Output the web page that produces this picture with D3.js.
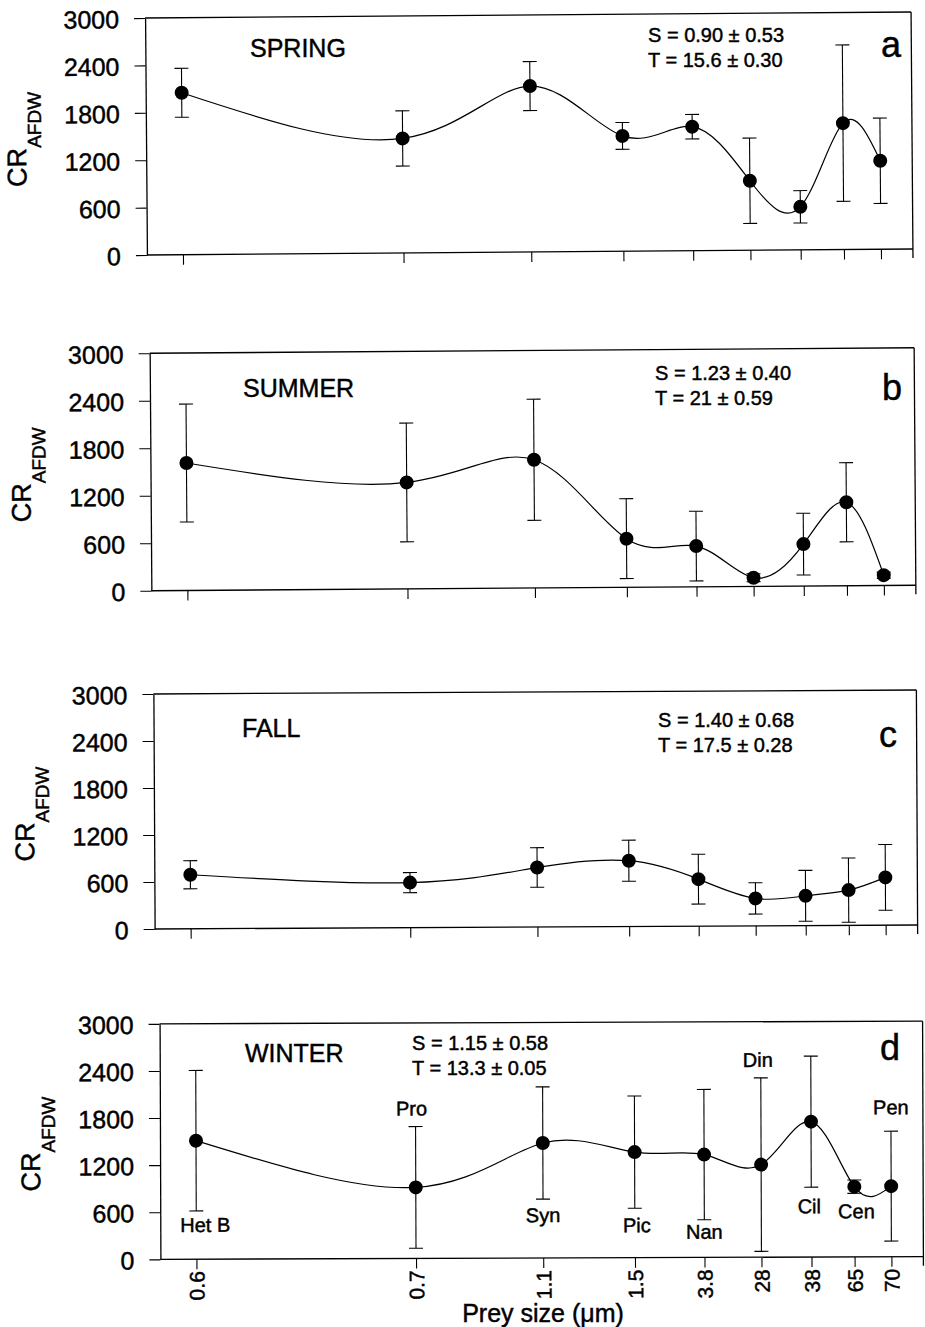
<!DOCTYPE html>
<html><head><meta charset="utf-8">
<script src="https://cdn.jsdelivr.net/npm/d3@7"></script>
<style>
body{margin:0;background:#fff}
svg{display:block}
text{font-family:"Liberation Sans",Arial,Helvetica,sans-serif;fill:#000;stroke:#000;stroke-width:0.45px}
</style>
</head><body>
<svg id="c" width="925" height="1327"></svg>
<script>
// ---------------- DATA ----------------
const preyTypes   = ["Het B","Pro","Syn","Pic","Nan","Din","Cil","Cen","Pen"];
const sizeLabels  = ["0.6","0.7","1.1","1.5","3.8","28","38","65","70"];
const axisPosition = [0, 31.6, 49.9, 63.1, 73.1, 81.3, 88.5, 94.7, 100]; // position of each prey size along the (non-linear) x axis
const yTicks = [0, 600, 1200, 1800, 2400, 3000];
const seasons = ["SPRING","SUMMER","FALL","WINTER"];
const panelLetters = ["a","b","c","d"];
const salinity    = ["S = 0.90 ± 0.53","S = 1.23 ± 0.40","S = 1.40 ± 0.68","S = 1.15 ± 0.58"];
const temperature = ["T = 15.6 ± 0.30","T = 21 ± 0.59","T = 17.5 ± 0.28","T = 13.3 ± 0.05"];

const springCR = [2050, 1450, 2100, 1460, 1570,  880,  545, 1600, 1120];
const springSE = [ 310,  350,  310,  170,  155,  540,  205,  990,  540];
const summerCR = [1610, 1345, 1620,  615,  515,  110,  530, 1055,  130];
const summerSE = [ 745,  750,  765,  505,  440,   50,  390,  500,   40];
const fallCR   = [ 690,  575,  760,  840,  600,  350,  380,  450,  610];
const fallSE   = [ 180,  128,  253,  262,  318,  200,  325,  410,  420];
const winterCR = [1510,  905, 1465, 1345, 1310, 1180, 1725,  895,  900];
const winterSE = [ 895,  775,  715,  715,  830, 1105,  835,   85,  700];

// ---------------- LAYOUT ----------------
const panels = [
  {cr:springCR, se:springSE, left:146,   right:912, top:15,    bottom:252,  rot:-0.45, labelX:250, labelY:57,   annX:648, annY:42,   letterX:891, letterY:57},
  {cr:summerCR, se:summerSE, left:150.5, right:915, top:350.5, bottom:588,  rot:-0.41, labelX:243, labelY:397,  annX:655, annY:380,  letterX:892, letterY:400},
  {cr:fallCR,   se:fallSE,   left:154,   right:917, top:692,   bottom:927,  rot:-0.30, labelX:242, labelY:737,  annX:658, annY:727,  letterX:888, letterY:747},
  {cr:winterCR, se:winterSE, left:160,   right:923, top:1022.5,bottom:1258, rot:-0.20, labelX:245, labelY:1062, annX:412, annY:1050, letterX:890, letterY:1060, last:true}
];
// placement of the prey-type labels in panel d: dx, and dy from error bar end (positive = below bar)
const preyLabelDx = [9, -4, 0, 2, 0, -3, -2, 2, 0];
const preyLabelDy = [21, -11, 23, 24, 19, -11, 26, 25, -17];

const svg = d3.select("#c");

panels.forEach((p, pi) => {
  const cx = (p.left + p.right) / 2, cy = (p.top + p.bottom) / 2;
  const g = svg.append("g").attr("transform", `rotate(${p.rot},${cx},${cy})`);

  const x = d3.scaleLinear().domain([0, 100]).range([p.left + 36, p.right - 32]);
  const y = d3.scaleLinear().domain([0, 3000]).range([p.bottom, p.top]);

  // frame
  const frame = g.append("g").attr("stroke", "#000").attr("stroke-width", 1.3).attr("fill", "none");
  frame.append("line").attr("x1", p.left).attr("x2", p.right).attr("y1", p.top).attr("y2", p.top);
  frame.append("line").attr("x1", p.left).attr("x2", p.right).attr("y1", p.bottom).attr("y2", p.bottom);
  frame.append("line").attr("x1", p.right).attr("x2", p.right).attr("y1", p.top).attr("y2", p.bottom + 9);

  // y axis
  const ya = g.append("g").attr("transform", `translate(${p.left},0)`)
    .call(d3.axisLeft(y).tickValues(yTicks).tickSize(11).tickSizeOuter(0).tickPadding(15).tickFormat(d3.format("d")));
  ya.select(".domain").attr("stroke", "#000").attr("stroke-width", 1.3);
  ya.selectAll(".tick line").attr("stroke", "#000").attr("stroke-width", 1.1);
  ya.selectAll(".tick text").attr("font-size", 25).attr("font-family", "Liberation Sans, Arial, sans-serif").attr("fill", "#000").attr("dy", "0.38em");

  // y axis title
  const yt = g.append("text")
    .attr("transform", `translate(${p.left - 120},${cy + 2}) rotate(-90)`)
    .attr("text-anchor", "middle");
  yt.append("tspan").attr("font-size", 27).text("CR");
  yt.append("tspan").attr("font-size", 19).attr("dy", 15).text("AFDW");

  // x axis ticks
  const xa = g.append("g").attr("transform", `translate(0,${p.bottom})`)
    .call(d3.axisBottom(x).tickValues(axisPosition).tickSize(10).tickSizeOuter(0)
      .tickFormat((d, i) => p.last ? sizeLabels[i] : ""));
  xa.select(".domain").remove();
  xa.selectAll(".tick line").attr("stroke", "#000").attr("stroke-width", 1.1);
  if (p.last) {
    xa.selectAll(".tick text")
      .attr("font-size", 21).attr("font-family", "Liberation Sans, Arial, sans-serif").attr("fill", "#000")
      .attr("transform", "rotate(-90)").attr("text-anchor", "end")
      .attr("x", -12).attr("y", 0).attr("dy", "0.36em");
  } else {
    xa.selectAll(".tick text").remove();
  }

  // data
  const pts = p.cr.map((v, i) => ({px: x(axisPosition[i]), v, e: p.se[i], i}));

  const line = d3.line().x(d => d.px).y(d => y(d.v)).curve(d3.curveNatural);
  g.append("path").datum(pts).attr("d", line)
    .attr("fill", "none").attr("stroke", "#000").attr("stroke-width", 1.2);

  const eb = g.append("g").attr("stroke", "#000").attr("stroke-width", 1.1);
  pts.forEach(d => {
    const y1 = y(d.v + d.e), y2 = y(Math.max(0, d.v - d.e));
    eb.append("line").attr("x1", d.px).attr("x2", d.px).attr("y1", y1).attr("y2", y2);
    eb.append("line").attr("x1", d.px - 7).attr("x2", d.px + 7).attr("y1", y1).attr("y2", y1);
    eb.append("line").attr("x1", d.px - 7).attr("x2", d.px + 7).attr("y1", y2).attr("y2", y2);
  });

  g.selectAll("circle.pt").data(pts).join("circle")
    .attr("class", "pt").attr("cx", d => d.px).attr("cy", d => y(d.v)).attr("r", 7).attr("fill", "#000");

  if (p.last) {
    g.selectAll("text.prey").data(pts).join("text")
      .attr("class", "prey")
      .attr("font-size", 20).attr("text-anchor", "middle")
      .attr("x", d => d.px + preyLabelDx[d.i])
      .attr("y", d => preyLabelDy[d.i] > 0 ? y(Math.max(0, d.v - d.e)) + preyLabelDy[d.i] : y(d.v + d.e) + preyLabelDy[d.i])
      .text(d => preyTypes[d.i]);
  }

  // free texts
  svg.append("text").attr("x", p.labelX).attr("y", p.labelY).attr("font-size", 25).text(seasons[pi]);
  svg.append("text").attr("x", p.annX).attr("y", p.annY).attr("font-size", 20).text(salinity[pi]);
  svg.append("text").attr("x", p.annX).attr("y", p.annY + 25).attr("font-size", 20).text(temperature[pi]);
  svg.append("text").attr("x", p.letterX).attr("y", p.letterY).attr("font-size", 36).attr("text-anchor", "middle").text(panelLetters[pi]);
});

svg.append("text").attr("x", 543).attr("y", 1322).attr("font-size", 25).attr("text-anchor", "middle").text("Prey size (μm)");
</script>
</body></html>
